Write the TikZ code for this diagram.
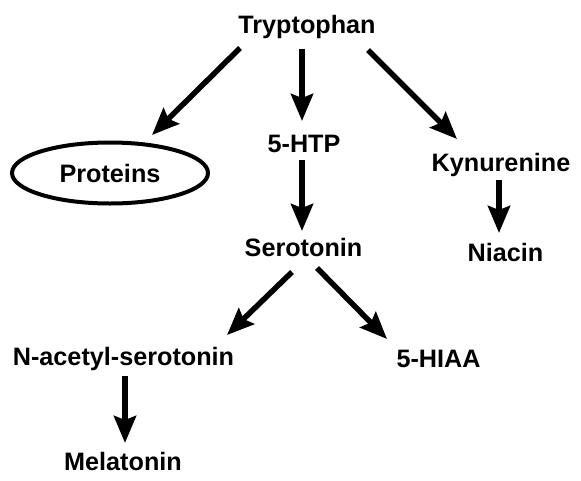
\documentclass[tikz,border=0pt]{standalone}
\usepackage{fontspec}
\setmainfont{Liberation Sans}
\usetikzlibrary{arrows.meta,shapes.geometric,calc}
\begin{document}
\begin{tikzpicture}[x=1pt,y=-1pt,
  lbl/.style={inner sep=0pt,anchor=base,font=\fontsize{25.2}{30}\bfseries\selectfont},
  arr/.style={line width=5.5pt,-{Stealth[length=27pt,width=22pt,inset=4pt]}},
  oval/.style={ellipse,draw,line width=4pt,minimum width=196pt,minimum height=61pt,inner sep=0pt,font=\fontsize{25.2}{30}\bfseries\selectfont}]
\useasboundingbox (0,0) rectangle (581,480);
\node[lbl] (tryp) at (307,33) {Tryptophan};
\node[oval] (prot) at (110,173) {Proteins};
\node[lbl] (htp) at (304,152) {5-HTP};
\node[lbl] (kyn) at (501,171) {Kynurenine};
\node[lbl] (sero) at (303.5,256) {Serotonin};
\node[lbl] (niac) at (505.5,261) {Niacin};
\node[lbl] (nac) at (123.5,365) {N-acetyl-serotonin};
\node[lbl] (hiaa) at (438.5,367) {5-HIAA};
\node[lbl] (mel) at (123,470) {Melatonin};
\draw[arr] ($(tryp.base)+(-67,15)$) -- ($(prot.center)+(42,-38)$);
\draw[arr] ($(tryp.base)+(-5,16)$) -- ($(htp.base)+(-2,-31)$);
\draw[arr] ($(tryp.base)+(61,17)$) -- ($(kyn.base)+(-44,-32)$);
\draw[arr] ($(htp.base)+(-2,8)$) -- ($(sero.base)+(-1.5,-25)$);
\draw[arr] ($(kyn.base)+(-2,9)$) -- ($(niac.base)+(-6.5,-28)$);
\draw[arr] ($(sero.base)+(-11.5,16)$) -- ($(nac.base)+(103.5,-30)$);
\draw[arr] ($(sero.base)+(13.5,12)$) -- ($(hiaa.base)+(-51.5,-28)$);
\draw[arr] ($(nac.base)+(1.5,11)$) -- ($(mel.base)+(2,-27)$);
\end{tikzpicture}
\end{document}
